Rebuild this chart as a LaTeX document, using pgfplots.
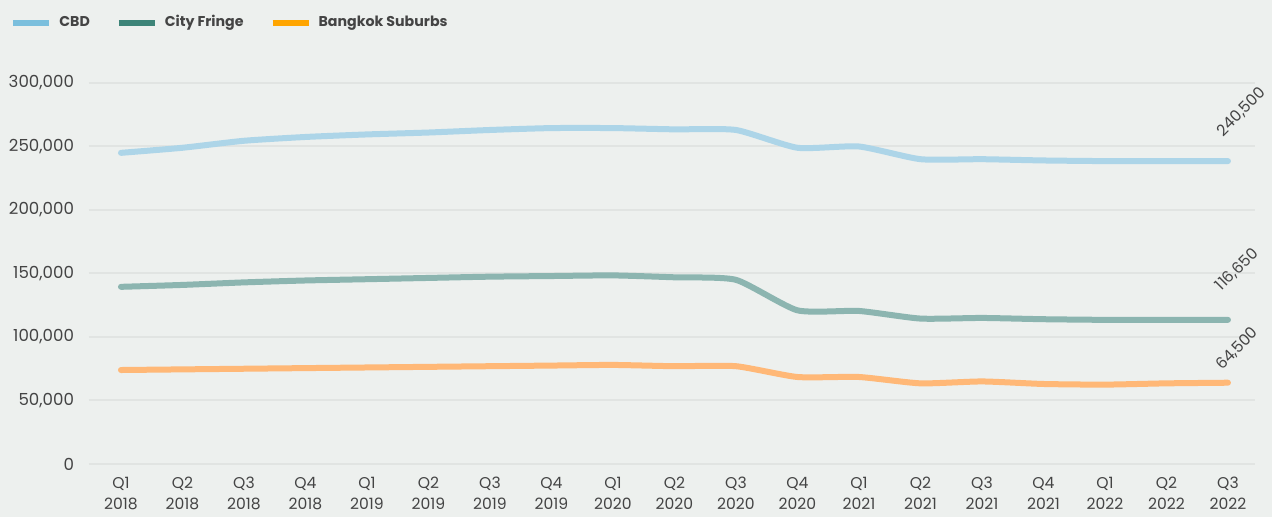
\documentclass[border=0pt]{standalone}
\usepackage{pgfplots}
\pgfplotsset{compat=1.18}
\usepackage{fontspec}
\setmainfont{Poppins}
\definecolor{bg}{HTML}{EDF0EE}
\definecolor{cbd}{HTML}{7BBFDD}
\definecolor{fringe}{HTML}{3D8478}
\definecolor{sub}{HTML}{FFA500}
\definecolor{cbdl}{HTML}{ADD5E8}
\definecolor{fringel}{HTML}{8CB5B0}
\definecolor{subl}{HTML}{FFB877}
\definecolor{txt}{HTML}{444444}
\definecolor{grd}{HTML}{E1E4E2}
\newcommand{\fs}{\fontsize{7.8}{10.5}\selectfont}
\newcommand{\fy}{\fontsize{8.3}{10.5}\selectfont}
\newcommand{\fl}{\fontsize{7.1}{9}\selectfont\bfseries}
\begin{document}
\begin{tikzpicture}
\fill[bg] (-44.5pt,-26.5pt) rectangle (591.5pt,232pt);
\begin{axis}[
  scale only axis, width=583pt, height=190.5pt,
  xmin=-0.52, xmax=18.44, ymin=0, ymax=300000,
  clip=false,
  axis line style={draw=none},
  major tick length=0pt,
  xtick={0,...,18},
  xticklabels={{Q1\\2018},{Q2\\2018},{Q3\\2018},{Q4\\2018},{Q1\\2019},{Q2\\2019},{Q3\\2019},{Q4\\2019},{Q1\\2020},{Q2\\2020},{Q3\\2020},{Q4\\2020},{Q1\\2021},{Q2\\2021},{Q3\\2021},{Q4\\2021},{Q1\\2022},{Q2\\2022},{Q3\\2022}},
  xticklabel style={align=center, font=\fs, text=txt, yshift=-3pt},
  ytick={0,50000,100000,150000,200000,250000,300000},
  scaled y ticks=false,
  yticklabel style={font=\fy, text=txt, xshift=-4pt, /pgf/number format/.cd, fixed, 1000 sep={,}, assume math mode=true},
  ymajorgrids, grid style={grd, line width=1pt},
  legend columns=3,
  legend style={at={(axis description cs:-0.0678,1.158)}, anchor=west, draw=none, fill=none, inner sep=0pt, font=\fl, text=txt,
    nodes={inner sep=0pt},
    /tikz/every odd column/.style={column sep=3.5pt},
    /tikz/every even column/.style={column sep=13pt}},
  legend image code/.code={\draw[line width=3pt,line cap=butt,#1] (0pt,0pt) -- (18pt,0pt);},
  every axis plot/.append style={line width=3pt, line cap=round, line join=round, smooth, tension=0.35},
]
\addlegendimage{cbd}\addlegendentry{CBD}
\addlegendimage{fringe}\addlegendentry{City Fringe}
\addlegendimage{sub}\addlegendentry{Bangkok Suburbs}
\addplot[cbdl, forget plot] coordinates {(0,245000)(1,249000)(2,254500)(3,257500)(4,259500)(5,261000)(6,263000)(7,264500)(8,264500)(9,263500)(10,263000)(11,249000)(12,250000)(13,240000)(14,240000)(15,239000)(16,238500)(17,238500)(18,238500)};
\addplot[fringel, forget plot] coordinates {(0,139500)(1,141000)(2,143000)(3,144500)(4,145500)(5,146500)(6,147500)(7,148000)(8,148500)(9,147000)(10,145000)(11,121000)(12,120500)(13,114500)(14,115000)(15,114000)(16,113500)(17,113500)(18,113500)};
\addplot[subl, forget plot] coordinates {(0,74000)(1,74500)(2,75000)(3,75500)(4,76000)(5,76500)(6,77000)(7,77500)(8,78000)(9,77000)(10,77000)(11,68500)(12,68500)(13,63500)(14,65000)(15,63000)(16,62500)(17,63500)(18,64000)};
\node[rotate=45, text=txt, font=\fs] at (axis cs:18.22,277000) {240,500};
\node[rotate=45, text=txt, font=\fs] at (axis cs:18.15,153000) {116,650};
\node[rotate=45, text=txt, font=\fs] at (axis cs:18.15,90500) {64,500};
\end{axis}
\pgfresetboundingbox
\path (-44.5pt,-26.5pt) rectangle (591.5pt,232pt);
\end{tikzpicture}
\end{document}
